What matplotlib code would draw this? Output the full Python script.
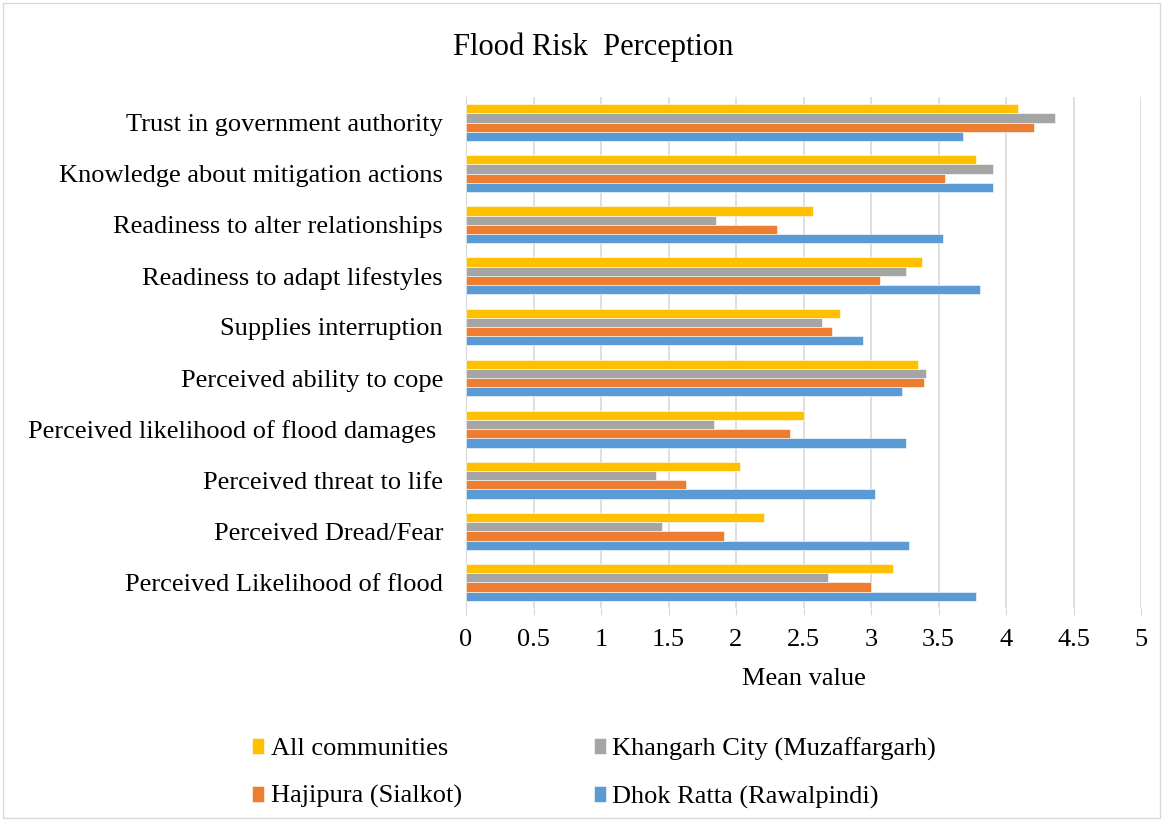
import matplotlib
matplotlib.use("Agg")
import matplotlib.pyplot as plt
from matplotlib.patches import Rectangle
import numpy as np

plt.rcParams['font.family'] = ['Liberation Serif', 'DejaVu Serif']

categories = [
    "Perceived Likelihood of flood",
    "Perceived Dread/Fear",
    "Perceived threat to life",
    "Perceived likelihood of flood damages ",
    "Perceived ability to cope",
    "Supplies interruption",
    "Readiness to adapt lifestyles",
    "Readiness to alter relationships",
    "Knowledge about mitigation actions",
    "Trust in government authority",
]

dhok_ratta = [3.78, 3.28, 3.03, 3.26, 3.23, 2.94, 3.81, 3.53, 3.90, 3.68]
hajipura = [3.00, 1.91, 1.63, 2.40, 3.39, 2.71, 3.07, 2.30, 3.55, 4.21]
khangarh = [2.68, 1.45, 1.41, 1.84, 3.41, 2.64, 3.26, 1.85, 3.90, 4.36]
all_communities = [3.16, 2.21, 2.03, 2.50, 3.35, 2.77, 3.38, 2.57, 3.78, 4.09]

series_names = ["Dhok Ratta (Rawalpindi)", "Hajipura (Sialkot)",
                "Khangarh City (Muzaffargarh)", "All communities"]
series_values = [dhok_ratta, hajipura, khangarh, all_communities]
colors = ["#5B9BD5", "#ED7D31", "#A5A5A5", "#FFC000"]

x_ticks = [0, 0.5, 1, 1.5, 2, 2.5, 3, 3.5, 4, 4.5, 5]

FS = 19

fig = plt.figure(figsize=(11.68, 8.21), dpi=100)
ax = fig.add_axes([466 / 1168, 1 - 608 / 821, (1141 - 466) / 1168, (608 - 97) / 821])

y = np.arange(len(categories))
bar_h = 0.18
offsets = [-1.5, -0.5, 0.5, 1.5]
handles = {}
for name, vals, col, off in zip(series_names, series_values, colors, offsets):
    h = ax.barh(y + off * bar_h, vals, height=bar_h, color=col,
                edgecolor='white', linewidth=0.4, zorder=3, label=name)
    handles[name] = h

ax.set_xlim(0, 5)
ax.set_ylim(-0.5, len(categories) - 0.5)
ax.set_xticks(x_ticks)
ax.set_xticklabels([f"{t:g}" for t in x_ticks], fontsize=FS)
ax.set_yticks(y)
ax.set_yticklabels(categories, fontsize=FS)
ax.tick_params(axis='y', length=0, pad=16.5)
ax.tick_params(axis='x', length=5, color='#D9D9D9', pad=10)
ax.grid(axis='x', color='#D9D9D9', linewidth=1.2, zorder=0)
for s in ['top', 'right', 'bottom']:
    ax.spines[s].set_visible(False)
ax.spines['left'].set_color('#D9D9D9')
ax.set_xlabel("Mean value", fontsize=FS, labelpad=12)

fig.text(593 / 1168, 1 - 47 / 821, "Flood Risk  Perception", fontsize=22,
         ha='center', va='center')

order = ["All communities", "Hajipura (Sialkot)",
         "Khangarh City (Muzaffargarh)", "Dhok Ratta (Rawalpindi)"]
leg = fig.legend([handles[n] for n in order], order, ncol=2, frameon=False,
                 fontsize=FS, loc='center', bbox_to_anchor=(594 / 1168, 1 - 773 / 821),
                 handlelength=0.45, handleheight=0.55, handletextpad=0.25,
                 columnspacing=5.0, labelspacing=0.95)

fig.patches.append(Rectangle((3 / 1168, 3 / 821), 1157 / 1168, 815 / 821,
                             transform=fig.transFigure, fill=False,
                             edgecolor='#D9D9D9', linewidth=1))

fig.savefig("out.png", dpi=100)
